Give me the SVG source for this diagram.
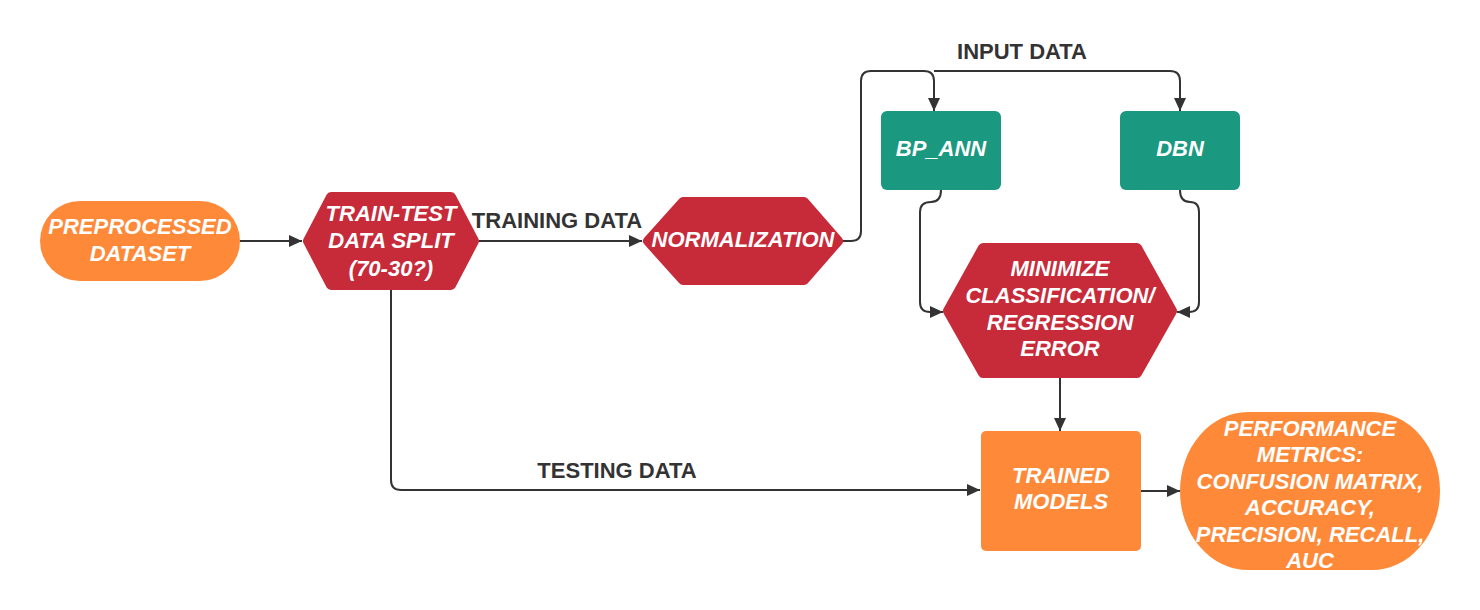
<svg xmlns="http://www.w3.org/2000/svg" width="1480" height="610" viewBox="0 0 1480 610">
<defs>
<marker id="arr" markerUnits="userSpaceOnUse" markerWidth="14" markerHeight="12" refX="13" refY="6" orient="auto">
<path d="M0,0 L13,6 L0,12 z" fill="#333"/>
</marker>
<style>
.conn{fill:none;stroke:#333;stroke-width:2;}
.nt{font-family:"Liberation Sans",Arial,sans-serif;font-weight:bold;font-style:italic;fill:#fff;font-size:22px;text-anchor:middle;dominant-baseline:central;}
.lbl{font-family:"Liberation Sans",Arial,sans-serif;font-weight:bold;fill:#333;font-size:22px;text-anchor:middle;dominant-baseline:central;}
.orange{fill:#fe8a39;}
.red{fill:#c72b3a;stroke:#c72b3a;stroke-width:10;stroke-linejoin:round;}
.teal{fill:#1a9880;}
</style>
</defs>
<rect width="1480" height="610" fill="#fff"/>
<g id="connectors">
<path class="conn" d="M240,241 H302" marker-end="url(#arr)"/>
<path class="conn" d="M479,241 H642" marker-end="url(#arr)"/>
<path class="conn" d="M391,290 V480 Q391,490 401,490 H980" marker-end="url(#arr)"/>
<path class="conn" d="M843,241 H851 Q861,241 861,231 V81 Q861,71 871,71 H924 Q934,71 934,81 V111" marker-end="url(#arr)"/>
<path class="conn" d="M934,71 H1170 Q1180,71 1180,81 V111" marker-end="url(#arr)"/>
<path class="conn" d="M941,190 Q941,202 931,202 Q920,202 920,212 V302 Q920,312 930,312 H943" marker-end="url(#arr)"/>
<path class="conn" d="M1180,190 Q1180,202 1190,202 Q1199,202 1199,212 V302 Q1199,312 1189,312 H1177" marker-end="url(#arr)"/>
<path class="conn" d="M1060,378 V431" marker-end="url(#arr)"/>
<path class="conn" d="M1141,491 H1180" marker-end="url(#arr)"/>
<text class="lbl" x="557" y="220">TRAINING DATA</text>
<text class="lbl" x="1022" y="51">INPUT DATA</text>
<text class="lbl" x="617" y="470">TESTING DATA</text>
</g>
<g id="preprocessed">
<rect class="orange" x="40" y="201" width="200" height="80" rx="40" ry="40"/>
<text class="nt" x="140" y="226">PREPROCESSED</text>
<text class="nt" x="140" y="253">DATASET</text>
</g>
<g id="split">
<polygon class="red" points="308,241 331,197 451,197 474,241 451,285 331,285"/>
<text class="nt" x="391" y="213">TRAIN-TEST</text>
<text class="nt" x="391" y="240">DATA SPLIT</text>
<text class="nt" x="391" y="268">(70-30?)</text>
</g>
<g id="normalization">
<polygon class="red" points="648,241 683,202 804,202 838,241 804,280 683,280"/>
<text class="nt" x="743" y="239">NORMALIZATION</text>
</g>
<g id="bpann">
<rect class="teal" x="881" y="111" width="120" height="79" rx="6"/>
<text class="nt" x="941" y="148">BP_ANN</text>
</g>
<g id="dbn">
<rect class="teal" x="1120" y="111" width="120" height="79" rx="6"/>
<text class="nt" x="1180" y="148">DBN</text>
</g>
<g id="minimize">
<polygon class="red" points="948,311 983,248 1137,248 1172,311 1137,373 983,373"/>
<text class="nt" x="1060" y="268">MINIMIZE</text>
<text class="nt" x="1060" y="295">CLASSIFICATION/</text>
<text class="nt" x="1060" y="322">REGRESSION</text>
<text class="nt" x="1060" y="348">ERROR</text>
</g>
<g id="trained">
<rect class="orange" x="981" y="431" width="160" height="120" rx="5"/>
<text class="nt" x="1061" y="475">TRAINED</text>
<text class="nt" x="1061" y="501">MODELS</text>
</g>
<g id="performance">
<rect class="orange" x="1180" y="412" width="260" height="158" rx="68" ry="79"/>
<text class="nt" x="1310" y="428">PERFORMANCE</text>
<text class="nt" x="1310" y="454">METRICS:</text>
<text class="nt" x="1310" y="481">CONFUSION MATRIX,</text>
<text class="nt" x="1310" y="507">ACCURACY,</text>
<text class="nt" x="1310" y="534">PRECISION, RECALL,</text>
<text class="nt" x="1310" y="560">AUC</text>
</g>
</svg>
